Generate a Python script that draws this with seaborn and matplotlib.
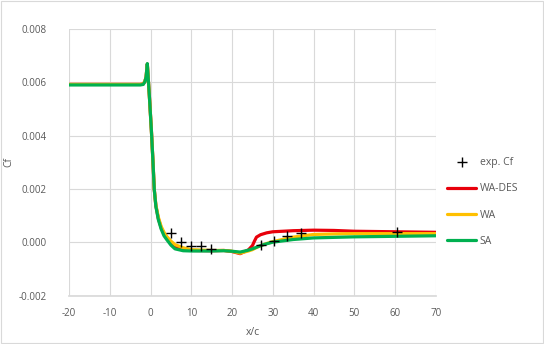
import numpy as np
import pandas as pd
import matplotlib
matplotlib.use("Agg")
import matplotlib.pyplot as plt
import seaborn as sns
from matplotlib.lines import Line2D
from matplotlib.patches import Rectangle

# ---- data ----
x_c = [-20, -2.5, -1.8, -1.4, -1.1, -0.8, -0.3, 0.2, 0.6, 0.9, 1.3, 1.9, 2.6, 3.3, 4, 5, 6, 8, 10,
       15, 18, 20, 22, 24, 25, 25.5, 26, 27, 28.5, 30, 35, 40, 45, 50, 60, 70]
sa = [5.9, 5.9, 5.92, 6.02, 6.2, 6.7, 5.5, 4.2, 3.0, 2.0, 1.35, 0.86, 0.5, 0.25, 0.1, -0.1, -0.24, -0.31, -0.32,
      -0.32, -0.31, -0.33, -0.36, -0.29, -0.24, -0.21, -0.18, -0.12, -0.05, 0.01, 0.11, 0.17, 0.19, 0.21, 0.23, 0.25]
wa = [5.92, 5.92, 5.94, 6.03, 6.2, 6.68, 5.5, 4.2, 3.0, 2.0, 1.4, 0.95, 0.6, 0.38, 0.22, 0.05, -0.08, -0.2, -0.27,
      -0.3, -0.3, -0.33, -0.4, -0.32, -0.27, -0.23, -0.19, -0.12, -0.04, 0.03, 0.2, 0.3, 0.32, 0.33, 0.33, 0.33]
wa_des = [5.92, 5.92, 5.94, 6.03, 6.2, 6.68, 5.5, 4.2, 3.0, 2.0, 1.38, 0.9, 0.55, 0.32, 0.16, -0.02, -0.15, -0.26, -0.3,
          -0.31, -0.3, -0.34, -0.42, -0.28, -0.12, 0.05, 0.2, 0.29, 0.36, 0.4, 0.44, 0.46, 0.45, 0.42, 0.4, 0.38]
exp_x = [5.0, 7.5, 9.9, 12.4, 14.8, 27.1, 30.3, 33.6, 37.0, 60.6]
exp_cf = [0.34, 0.0, -0.12, -0.14, -0.26, -0.08, 0.07, 0.26, 0.35, 0.41]
series_names = ["WA-DES", "WA", "SA"]
colors = ["#E8000B", "#FFC000", "#00B050"]
x_ticks = [-20, -10, 0, 10, 20, 30, 40, 50, 60, 70]
y_ticks = [-0.002, 0.0, 0.002, 0.004, 0.006, 0.008]

sns.set_theme(style="white")
plt.rcParams['font.family'] = ['Open Sans', 'DejaVu Sans']
plt.rcParams['axes.unicode_minus'] = False
txt = "#595959"

df = pd.concat([
    pd.DataFrame({"x": x_c, "Cf": np.array(v) * 1e-3, "model": n})
    for n, v in zip(series_names, [wa_des, wa, sa])
])
exp_df = pd.DataFrame({"x": exp_x, "Cf": np.array(exp_cf) * 1e-3})

fig = plt.figure(figsize=(5.44, 3.44), dpi=100)
ax = fig.add_axes([0.127, 0.140, 0.674, 0.776])

sns.lineplot(data=df, x="x", y="Cf", hue="model", hue_order=series_names,
             palette=dict(zip(series_names, colors)), linewidth=2.3, sort=False,
             estimator=None, legend=False, ax=ax)
sns.scatterplot(data=exp_df, x="x", y="Cf", marker="+", color="black", s=45,
                linewidth=1.0, zorder=5, legend=False, ax=ax)

ax.set_xlim(-20, 70)
ax.set_ylim(-0.002, 0.008)
ax.set_xticks(x_ticks)
ax.set_xticklabels([str(v) for v in x_ticks])
ax.set_yticks(y_ticks)
ax.set_yticklabels([f"{v:.3f}" for v in y_ticks])
ax.grid(True, color="#D9D9D9", linewidth=0.8)
ax.set_axisbelow(True)
for s in ["top", "right", "left"]:
    ax.spines[s].set_visible(False)
ax.spines["bottom"].set_color("#D9D9D9")
ax.tick_params(axis="both", colors=txt, labelsize=7, length=0)
ax.tick_params(axis="x", pad=9)
ax.tick_params(axis="y", pad=16)
ax.set_xlabel("x/c", color=txt, fontsize=7.5)
ax.set_ylabel("Cf", color=txt, fontsize=7.5)
ax.xaxis.set_label_coords(0.5, -0.118)
ax.yaxis.set_label_coords(-0.148, 0.5)

handles = [Line2D([], [], color="black", marker="+", linestyle="none", markersize=7, markeredgewidth=1.0)]
handles += [Line2D([], [], color=c, linewidth=2.3) for c in colors]
labels = ["exp. Cf"] + series_names
leg = fig.legend(handles, labels, loc="upper left", bbox_to_anchor=(0.805, 0.57),
                 frameon=False, fontsize=7.5, labelspacing=1.45, handlelength=2.8,
                 handletextpad=0.3)
for t in leg.get_texts():
    t.set_color(txt)

fig.patches.append(Rectangle((0.002, 0.003), 0.996, 0.994, transform=fig.transFigure,
                             fill=False, edgecolor="#D9D9D9", linewidth=0.8))
fig.savefig("out.png", dpi=100)
